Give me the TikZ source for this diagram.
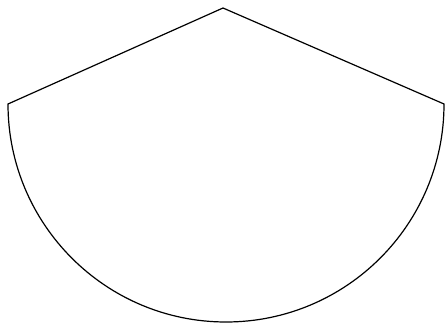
\documentclass[tikz,border=0pt]{standalone}
\begin{document}
\begin{tikzpicture}[x=1pt,y=1pt,outline/.style={draw=black,line width=1.2pt,line join=miter}]
\useasboundingbox (0,0) rectangle (446,326);
\coordinate (L) at (8,222);
\coordinate (A) at (223,318);
\coordinate (R) at (444,222);
\draw[outline] (L) -- (A) -- (R) arc[start angle=0,end angle=-180,radius=218] -- cycle;
\end{tikzpicture}
\end{document}
